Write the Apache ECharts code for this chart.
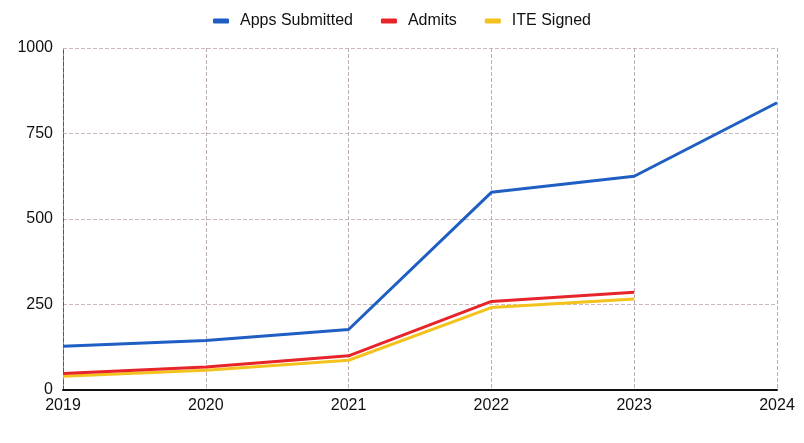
<!DOCTYPE html>
<html>
<head>
<meta charset="utf-8">
<script src="https://cdn.jsdelivr.net/npm/echarts@6/dist/echarts.min.js"></script>
<style>html,body{margin:0;padding:0;background:#fff}#c{width:804px;height:443px}</style>
</head>
<body>
<div id="c"></div>
<script>
const years = ['2019','2020','2021','2022','2023','2024'];
const appsSubmitted = [128, 145, 177, 578, 625, 840];
const admits = [48, 67, 100, 259, 286, null];
const iteSigned = [40, 58, 87, 241, 266, null];
const yTicks = [0, 250, 500, 750, 1000];

const chart = echarts.init(document.getElementById('c'));
const font = 'Liberation Sans, Arial, sans-serif';
const mk = (name, data, color, z) => ({
  name, type: 'line', data, z,
  symbol: 'none', smooth: false,
  lineStyle: { width: 3, color },
  itemStyle: { color }
});
chart.setOption({
  animation: false,
  backgroundColor: '#fff',
  legend: {
    top: 8, left: 'center',
    itemWidth: 16, itemHeight: 5, itemGap: 28,
    icon: 'roundRect',
    textStyle: { fontFamily: font, fontSize: 16, color: '#111', padding: [0, 0, 0, 6] },
    data: ['Apps Submitted', 'Admits', 'ITE Signed']
  },
  grid: { left: 63, right: 27, top: 48, bottom: 53, containLabel: false },
  xAxis: {
    type: 'category', data: years, boundaryGap: false,
    axisLine: { lineStyle: { color: '#111', width: 2 } },
    axisTick: { show: false },
    axisLabel: { fontFamily: font, fontSize: 16, color: '#111', margin: 8, interval: 0 },
    splitLine: { show: true, lineStyle: { color: '#bcaeb2', type: 'dashed', width: 1 } }
  },
  yAxis: {
    type: 'value', min: 0, max: 1000, interval: 250,
    axisLine: { show: true, lineStyle: { color: '#555', type: 'dashed', width: 1 } },
    axisTick: { show: false },
    axisLabel: { fontFamily: font, fontSize: 16, color: '#111', margin: 10,
      formatter: v => String(v) },
    splitLine: { lineStyle: { color: '#cbb8bd', type: 'dashed', width: 1 } }
  },
  series: [
    mk('Apps Submitted', appsSubmitted, '#1f5fc4', 3),
    mk('Admits', admits, '#e8242b', 4),
    mk('ITE Signed', iteSigned, '#f4c21c', 2)
  ]
});
</script>
</body>
</html>
